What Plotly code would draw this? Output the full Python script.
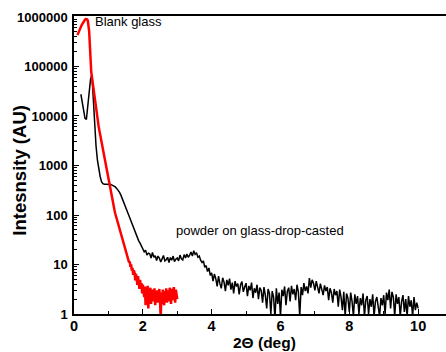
import numpy as np
import plotly.graph_objects as go

# Black: powder on glass-drop-casted, sampled from 0.20 deg at 0.04 deg steps
powder_x0 = 0.20
powder_step = 0.04
powder_y = [
    27500, 20000, 13000, 9000, 8500, 15000, 30000, 55000, 68000, 20000,
    5500, 2500, 1300, 800, 600, 470, 430, 420, 425, 420,
    415, 420, 410, 400, 390, 370, 345, 320, 290, 255,
    220, 190, 160, 135, 112, 95, 80, 66, 58, 47,
    40, 34, 30, 27, 23,
    21, 18, 19.5, 15.5, 17, 16.5, 13.5, 17.5, 14, 15,
    12, 14.8, 13.5, 11.2, 13, 15.2, 11.8, 12.5, 14, 11,
    13.8, 12.2, 14.8, 11.5, 12.8, 13.5, 11.8, 15.5, 13, 12.4,
    15.8, 13.6, 16.2, 14, 15.5, 17.8, 14.8, 19, 16, 17.2,
    14, 14.8, 12.2, 11, 11.8, 8.8, 9.5, 7.2, 8.5, 6,
    6.8, 4.6, 6.4, 5.2, 3.6, 5.8, 4.1, 3.3, 5.4, 4.4,
    2.9, 4.9, 3.8, 5.2, 3.1, 4.3, 2.6, 4.6, 3.6, 4.1,
    2.5, 3.9, 4.5, 2.8, 3.5, 4.2, 2.3, 3.7, 3.0, 4.3,
    2.1, 3.3, 2.7, 3.9, 2.0, 3.4, 3.0, 1.7, 3.5, 2.4,
    1.3, 3.2, 2.6, 1.0, 2.9, 2.2, 0.8, 3.3, 1.6, 2.7,
    0.9, 3.1, 2.3, 3.6, 1.5, 2.9, 3.4, 1.8, 3.7, 2.5,
    3.2, 1.9, 3.9, 2.8, 0.9, 3.5, 2.4, 4.2, 2.9, 3.6,
    2.6, 5.3, 3.4, 4.9, 4.2, 3.0, 4.6, 3.3, 2.6, 4.1,
    3.2, 2.4, 3.8, 2.9, 3.5, 1.9, 3.3, 2.7, 1.7, 3.2,
    2.4, 2.9, 1.4, 3.1, 2.2, 1.2, 2.8, 0.9, 2.6, 2.1,
    1.1, 2.7, 1.8, 0.9, 2.5, 1.6, 2.3, 1.0, 2.1, 1.5,
    2.6, 0.9, 1.9, 2.3, 1.0, 2.0, 1.4, 2.5, 0.9, 1.8,
    2.2, 1.2, 0.9, 2.1, 1.5, 2.4, 1.0, 2.7, 1.9, 3.1,
    1.3, 2.8, 2.2, 0.9, 2.5, 1.6, 2.2, 0.9, 1.8, 2.4,
    1.1, 2.0, 0.9, 2.3, 1.4, 1.9, 0.9, 2.2, 1.2, 1.7,
    1.3,
]

# Red: blank glass, sampled from 0.10 deg at 0.02 deg steps
glass_x0 = 0.10
glass_step = 0.02
glass_y = [
    430000, 470000, 510000, 550000, 590000, 630000, 680000, 720000, 770000, 820000,
    860000, 890000, 910000, 920000, 900000, 850000, 720000, 520000, 280000, 120000,
    80000, 62000, 48000, 37000, 28000, 21500, 16500, 12800, 10000, 8300,
    7000, 5900, 5000, 4200, 3600, 3000, 2550, 2150, 1800, 1500,
    1250, 1050, 880, 740, 620, 520, 440, 370, 310, 265,
    225, 190, 165, 140, 122, 106, 95, 83, 74, 66,
    58, 52, 47, 42, 37, 34, 30, 27, 25, 21,
    20, 17, 16.5, 13.5, 13, 11, 11.5, 9, 10, 7.5,
    8.5, 6.2, 7.6, 6.8, 4.8, 6.5, 5.2, 3.9, 5.8, 4.4,
    3.2, 4.9, 3.6, 4.2, 2.6, 3.9, 3.1, 2.2, 3.6, 1.5,
    3.2, 2.5, 3.7, 1.3, 2.9, 2.2, 3.4, 1.6, 2.7, 3.1,
    1.8, 2.4, 3.3, 1.5, 2.8, 2.1, 3.0, 1.7, 2.6, 3.2,
    1.9, 0.8, 2.7, 1.6, 3.1, 2.3, 1.5, 2.9, 2.1, 3.3,
    1.7, 2.6, 3.0, 1.8, 3.4, 2.2, 1.6, 2.9, 3.2, 1.9,
    3.5, 2.4, 1.7, 3.1, 2.6, 2.0,
]

y_tick_vals = [1, 10, 100, 1000, 10000, 100000, 1000000]
y_tick_text = ["1", "10", "100", "1000", "10000", "100000", "1000000"]
x_tick_vals = [0, 2, 4, 6, 8, 10]

powder_x = np.round(powder_x0 + powder_step * np.arange(len(powder_y)), 3)
glass_x = np.round(glass_x0 + glass_step * np.arange(len(glass_y)), 3)

FONT = "Liberation Sans, Arial, sans-serif"

fig = go.Figure()
fig.add_trace(go.Scatter(x=powder_x, y=powder_y, mode="lines",
                         line=dict(color="black", width=1.5), showlegend=False))
fig.add_trace(go.Scatter(x=glass_x, y=glass_y, mode="lines",
                         line=dict(color="#ff0000", width=2.5), showlegend=False))

fig.add_annotation(x=0.55, y=np.log10(820000), text="Blank glass", showarrow=False,
                   xanchor="left", yanchor="middle",
                   font=dict(family=FONT, size=13, color="black"))
fig.add_annotation(x=2.9, y=np.log10(48), text="powder on glass-drop-casted", showarrow=False,
                   xanchor="left", yanchor="middle",
                   font=dict(family=FONT, size=13, color="black"))

# axis titles placed as paper annotations
fig.add_annotation(xref="paper", yref="paper", x=0.511, y=-0.095, text="2Θ (deg)",
                   showarrow=False, xanchor="center", yanchor="middle",
                   font=dict(family=FONT, size=15.5, color="black", weight="bold"))
fig.add_annotation(xref="paper", yref="paper", x=-0.149, y=0.483, text="Intesnsity (AU)",
                   showarrow=False, xanchor="center", yanchor="middle", textangle=-90,
                   font=dict(family=FONT, size=18.5, color="black", weight="bold"))

fig.update_layout(
    width=446, height=352,
    margin=dict(l=74, r=0, t=16, b=38),
    paper_bgcolor="white", plot_bgcolor="white",
    font=dict(family=FONT, color="black"),
    xaxis=dict(
        range=[0, 10.81], tickvals=x_tick_vals, ticks="inside", ticklen=5,
        tickwidth=1, tickcolor="black",
        showline=True, linecolor="black", linewidth=1.5, mirror=True,
        showgrid=False, zeroline=False, ticklabelstandoff=-2,
        tickfont=dict(family=FONT, size=14.5, color="black", weight="bold"),
        minor=dict(dtick=1, ticks="inside", ticklen=3, tickcolor="black", showgrid=False),
    ),
    yaxis=dict(
        type="log", range=[0, 6.02], tickvals=y_tick_vals, ticktext=y_tick_text,
        ticks="inside", ticklen=5, tickwidth=1, tickcolor="black",
        showline=True, linecolor="black", linewidth=1.5,
        showgrid=False, zeroline=False, ticklabelstandoff=2,
        tickfont=dict(family=FONT, size=13, color="black", weight="bold"),
        minor=dict(dtick="D1", ticks="inside", ticklen=3, tickcolor="black", showgrid=False),
    ),
)

fig.write_html("out.html")
